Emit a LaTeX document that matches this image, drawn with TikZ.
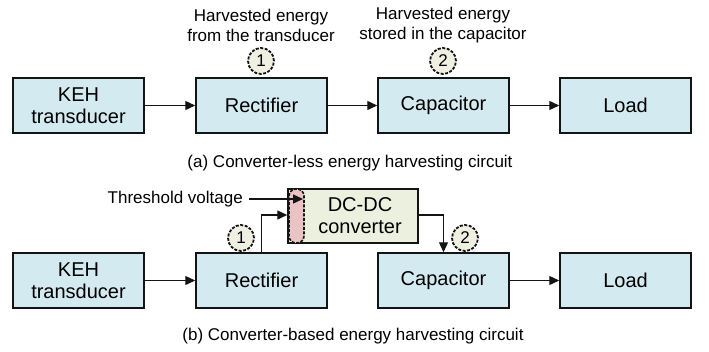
\documentclass[tikz,border=0pt]{standalone}
\usepackage{fontspec}
\setmainfont{Liberation Sans}
\usetikzlibrary{arrows.meta}
\definecolor{boxfill}{RGB}{212,234,241}
\definecolor{dcfill}{RGB}{236,240,222}
\definecolor{pillfill}{RGB}{234,196,196}
\definecolor{circfill}{RGB}{240,240,226}
\definecolor{edge}{RGB}{20,20,20}
\tikzset{
  blk/.style={draw=edge, line width=1.5pt, fill=boxfill, minimum width=131pt, minimum height=55pt, inner sep=0pt, align=center, font=\fontsize{20}{22}\selectfont},
  dcblk/.style={blk, fill=dcfill, minimum width=130pt, minimum height=54pt},
  pill/.style={draw=edge, dash pattern=on 3pt off 1.5pt, line width=1.6pt, fill=pillfill, rounded corners=7pt, minimum width=15pt, minimum height=54pt, inner sep=0pt},
  numc/.style={circle, draw=edge, dash pattern=on 3pt off 1.5pt, line width=1.8pt, fill=circfill, minimum size=26pt, inner sep=0pt, font=\fontsize{17}{17}\selectfont},
  lbl/.style={align=center, font=\fontsize{17}{20}\selectfont, inner sep=0pt},
  conn/.style={draw=edge, line width=1.4pt, -{Triangle[length=10pt,width=9pt]}}
}
\begin{document}
\begin{tikzpicture}[x=1pt,y=-1pt]
\useasboundingbox (0,0) rectangle (709,351);
% (a)
\node[blk] (k1) at (78.5,105.5) {KEH\\transducer};
\node[blk] (r1) at (261.5,105.5) {Rectifier};
\node[blk] (c1) at (443.5,105.5) {Capacitor};
\node[blk] (l1) at (625.5,105.5) {Load};
\node[lbl] (h1) at (261,25) {Harvested energy\\from the transducer};
\node[lbl] (h2) at (443,25) {Harvested energy\\stored in the capacitor};
\node[numc] (n1) at (261,61) {1};
\node[numc] (n2) at (443,61) {2};
\draw[conn] (k1) -- (r1);
\draw[conn] (r1) -- (c1);
\draw[conn] (c1) -- (l1);
\node[lbl] (capa) at (350,163) {(a) Converter-less energy harvesting circuit};
% (b)
\node[blk] (k2) at (78.5,280.5) {KEH\\transducer};
\node[blk] (r2) at (261.5,280.5) {Rectifier};
\node[blk] (c2) at (443.5,280.5) {Capacitor};
\node[blk] (l2) at (625.5,280.5) {Load};
\node[dcblk] (dc) at (353,216) {\hspace*{14pt}DC-DC\\\hspace*{14pt}converter};
\node[pill] (pl) at (296.5,216) {};
\node[lbl, anchor=east] (thr) at (243,199) {Threshold voltage};
\coordinate (thrend) at (303,199);
\node[numc] (m1) at (241,238) {1};
\node[numc] (m2) at (465,238) {2};
\draw[conn] (k2) -- (r2);
\draw[conn] (r2.north) |- ([yshift=1pt]dc.west);
\draw[conn] ([yshift=1pt]dc.east) -| (c2.north);
\draw[conn] (c2) -- (l2);
\draw[conn] ([xshift=6pt]thr.east) -- (thrend);
\node[lbl] (capb) at (353,336) {(b) Converter-based energy harvesting circuit};
\end{tikzpicture}
\end{document}
